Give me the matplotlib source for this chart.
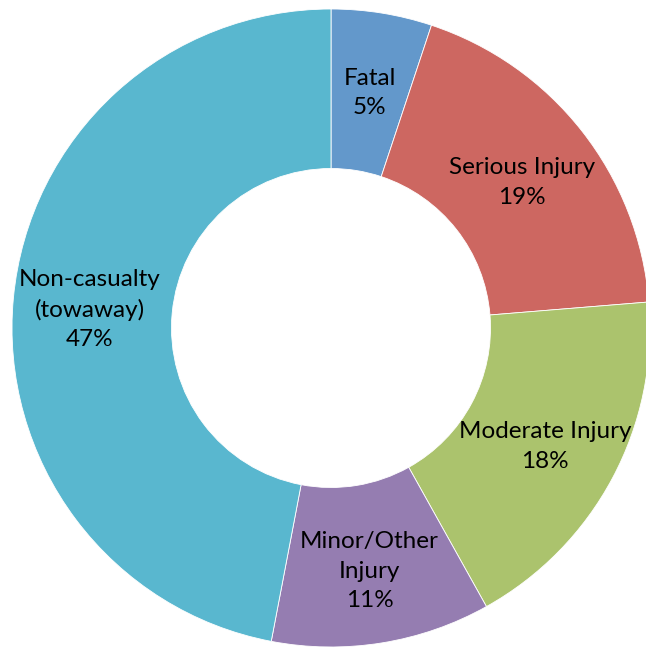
import numpy as np
import matplotlib.pyplot as plt

labels = ['Fatal', 'Serious Injury', 'Moderate Injury', 'Minor/Other\nInjury', 'Non-casualty\n(towaway)']
values = [5.1, 18.6, 18.2, 11.1, 47.0]
colors = ['#6398CB', '#CD6761', '#ABC36D', '#957DB1', '#59B7CF']

plt.rcParams['font.family'] = ['Lato', 'DejaVu Sans']

fig = plt.figure(figsize=(6.46, 6.48), dpi=100)
ax = fig.add_axes([0, 0, 1, 1])
wedges, _ = ax.pie(values, colors=colors, startangle=90, counterclock=False,
                   radius=1.0, wedgeprops=dict(width=0.5, edgecolor='white', linewidth=0.6))

# labels at mid-angle of each wedge
total = float(sum(values))
cum = 0.0
for lab, v in zip(labels, values):
    mid = 90 - 360 * (cum + v / 2.0) / total
    cum += v
    r = 0.76
    x = r * np.cos(np.radians(mid))
    y = r * np.sin(np.radians(mid)) - 0.013
    ax.text(x, y, '%s\n%d%%' % (lab, round(100 * v / total)), ha='center', va='center',
            fontsize=17.5, linespacing=1.5, color='black')

R = 319.0
ax.set_xlim(-331 / R, (646 - 331) / R)
ax.set_ylim(-(648 - 328) / R, 328 / R)
ax.set_aspect('equal')
ax.axis('off')
fig.savefig('out.png', dpi=100)
